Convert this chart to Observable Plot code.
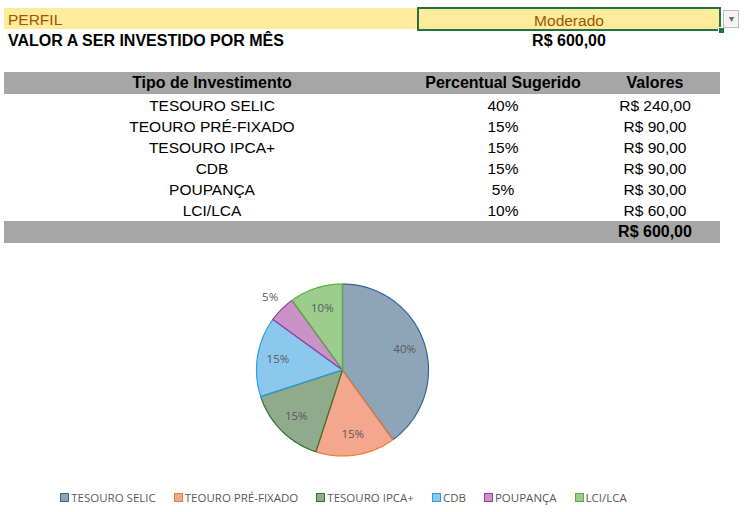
<!DOCTYPE html>
<html><head><meta charset="utf-8">
<script src="https://cdn.jsdelivr.net/npm/d3@7"></script>
<script src="https://cdn.jsdelivr.net/npm/@observablehq/plot@0.6"></script>
<style>
body{margin:0;background:#fff;width:744px;height:512px;overflow:hidden;position:relative;font-family:"Liberation Sans",Arial,sans-serif;}
.a{position:absolute;white-space:nowrap;}
.c{text-align:center;}
#legend{position:absolute;left:0;width:687px;top:490px;display:flex;justify-content:center;gap:18px;font-family:"Open Sans",sans-serif;font-size:11.5px;color:#595959;}
#legend span.sw{display:inline-block;width:7px;height:7px;border:1px solid;margin-right:2px;vertical-align:0px;}
</style></head><body>
<div id="root"></div>
<div id="legend"></div>
<script>
const profileLabel = "PERFIL";
const profile = "Moderado";
const monthlyLabel = "VALOR A SER INVESTIDO POR MÊS";
const monthlyTotal = 600;
const headers = ["Tipo de Investimento", "Percentual Sugerido", "Valores"];
const categories = ["TESOURO SELIC", "TEOURO PRÉ-FIXADO", "TESOURO IPCA+", "CDB", "POUPANÇA", "LCI/LCA"];
const percents = [40, 15, 15, 15, 5, 10];
const values = [240, 90, 90, 90, 30, 60];
const fillColors = ["#8ea5b9", "#f4a78c", "#8fab8c", "#8cc8ee", "#c993c6", "#9ccd8c"];
const strokeColors = ["#2f6996", "#ed7d31", "#2e7235", "#2aa0e0", "#a03aa0", "#5aaf3c"];

const brl = v => "R$ " + v.toFixed(2).replace(".", ",");
const root = document.getElementById("root");
function box(text, css, cls = "a") {
  const d = document.createElement("div");
  d.className = cls;
  d.textContent = text;
  d.style.cssText = css;
  root.appendChild(d);
  return d;
}
// top rows
box("", "left:4px;top:8px;width:716px;height:21px;background:#ffeb9c;");
box(profileLabel, "left:8px;top:8px;height:21px;line-height:23px;font-size:15.5px;color:#9c5700;");
box(profile, "left:417px;top:7px;width:300px;height:20px;line-height:23px;font-size:15.5px;color:#9c5700;border:2px solid #217346;", "a c");
box("", "left:718px;top:27px;width:5px;height:5px;background:#217346;border:1px solid #fff;");
box("▾", "left:723px;top:10px;width:14px;height:16px;line-height:16px;font-size:10px;color:#666;border:1px solid #bbb;background:#f4f4f4;text-align:center;");
box(monthlyLabel, "left:8px;top:30px;height:21px;line-height:21px;font-size:16px;font-weight:bold;color:#000;");
box(brl(monthlyTotal), "left:419px;top:30px;width:300px;height:21px;line-height:21px;font-size:16px;font-weight:bold;color:#000;", "a c");

// table
const colCenters = [212, 503, 655];
const colW = [300, 200, 130];
box("", "left:4px;top:72px;width:716px;height:22px;background:#a6a6a6;");
headers.forEach((h, j) => box(h, `left:${colCenters[j] - colW[j] / 2}px;top:72px;width:${colW[j]}px;height:22px;line-height:22px;font-size:16px;font-weight:bold;color:#000;`, "a c"));
categories.forEach((c, i) => {
  const cells = [c, percents[i] + "%", brl(values[i])];
  cells.forEach((t, j) => box(t, `left:${colCenters[j] - colW[j] / 2}px;top:${95 + i * 21}px;width:${colW[j]}px;height:21px;line-height:21px;font-size:15.5px;color:#000;`, "a c"));
});
box("", "left:4px;top:221px;width:716px;height:22px;background:#a6a6a6;");
box(brl(d3.sum(values)), `left:${colCenters[2] - colW[2] / 2}px;top:221px;width:${colW[2]}px;height:22px;line-height:22px;font-size:16px;font-weight:bold;color:#000;`, "a c");

// pie
const rows = categories.map((name, i) => ({name, pct: percents[i], i}));
const arcs = d3.pie().sort(null).value(d => d.pct)(rows);
const R = 86;
const poly = [];
arcs.forEach(a => {
  const name = a.data.name;
  poly.push({name, x: 0, y: 0});
  const n = 60;
  for (let k = 0; k <= n; k++) {
    const t = a.startAngle + (a.endAngle - a.startAngle) * k / n;
    poly.push({name, x: R * Math.sin(t), y: R * Math.cos(t)});
  }
  poly.push({name, x: 0, y: 0});
});
const labels = arcs.map(a => {
  const m = (a.startAngle + a.endAngle) / 2;
  const r = a.data.pct < 8 ? R * 1.19 : R * 0.76;
  return {text: a.data.pct + "%", x: r * Math.sin(m), y: r * Math.cos(m)};
});
const chart = Plot.plot({
  width: 744, height: 230, margin: 0,
  x: {domain: [-342, 402], axis: null},
  y: {domain: [-110.5, 119.5], axis: null},
  color: {domain: categories, range: fillColors},
  marks: [
    Plot.line(poly, {x: "x", y: "y", z: "name", fill: "name", stroke: null}),
    ...categories.map((c, i) => Plot.line(poly.filter(d => d.name === c), {x: "x", y: "y", stroke: strokeColors[i], strokeWidth: 1.2})),
    Plot.text(labels, {x: "x", y: "y", text: "text", fill: "#595959", fontSize: 11.5, fontFamily: "Open Sans, sans-serif"})
  ]
});
chart.style.position = "absolute";
chart.style.left = "0px";
chart.style.top = "250px";
chart.style.background = "transparent";
document.body.appendChild(chart);

// legend
const lg = document.getElementById("legend");
categories.forEach((c, i) => {
  const it = document.createElement("div");
  it.innerHTML = `<span class="sw" style="background:${fillColors[i]};border-color:${strokeColors[i]}"></span>`;
  it.appendChild(document.createTextNode(c));
  lg.appendChild(it);
});
</script>
</body></html>
